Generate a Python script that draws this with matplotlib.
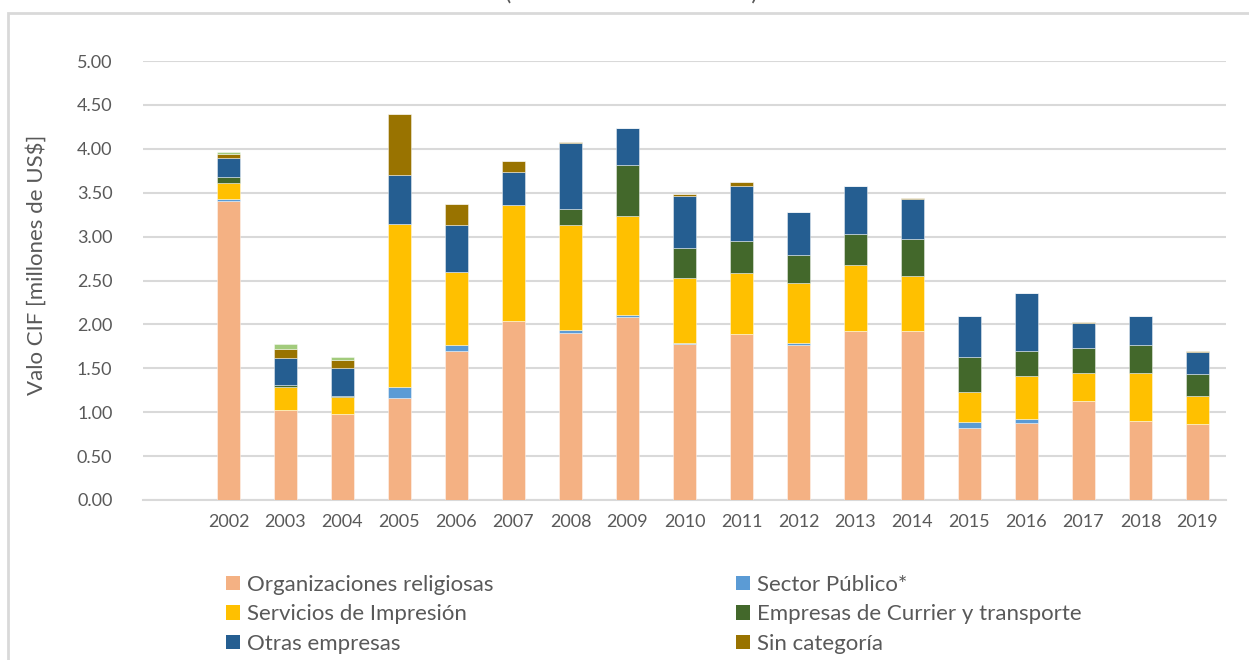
import matplotlib
matplotlib.use("Agg")
import matplotlib.pyplot as plt
import numpy as np
from matplotlib.patches import Patch, Rectangle

plt.rcParams['font.family'] = ['Lato', 'DejaVu Sans']

years = [str(y) for y in range(2002, 2020)]

org = [3.40, 1.02, 0.98, 1.165, 1.70, 2.04, 1.90, 2.08, 1.78, 1.885, 1.77, 1.92, 1.92, 0.82, 0.88, 1.13, 0.90, 0.87]
sector = [0.03, 0.01, 0.0, 0.125, 0.06, 0.0, 0.04, 0.03, 0.005, 0.005, 0.02, 0.0, 0.0, 0.07, 0.045, 0.0, 0.0, 0.0]
impresion = [0.18, 0.255, 0.19, 1.85, 0.84, 1.32, 1.19, 1.13, 0.74, 0.70, 0.68, 0.755, 0.63, 0.34, 0.485, 0.32, 0.55, 0.32]
courier = [0.065, 0.03, 0.012, 0.0, 0.0, 0.0, 0.19, 0.58, 0.35, 0.355, 0.32, 0.355, 0.42, 0.395, 0.29, 0.28, 0.31, 0.25]
otras = [0.215, 0.30, 0.32, 0.56, 0.53, 0.38, 0.745, 0.42, 0.59, 0.63, 0.49, 0.55, 0.46, 0.475, 0.655, 0.29, 0.34, 0.25]
sincat = [0.05, 0.10, 0.095, 0.70, 0.24, 0.12, 0.012, 0.0, 0.02, 0.045, 0.0, 0.0, 0.01, 0.0, 0.0, 0.01, 0.0, 0.005]
otro7 = [0.02, 0.06, 0.03, 0, 0, 0, 0, 0, 0, 0, 0, 0, 0, 0, 0, 0, 0, 0]

labels = ["Organizaciones religiosas", "Sector Público*", "Servicios de Impresión",
          "Empresas de Currier y transporte", "Otras empresas", "Sin categoría", ""]
colors = ["#F4B183", "#5B9BD5", "#FFC000", "#43682B", "#255E91", "#997300", "#A2CB7C"]
series = [org, sector, impresion, courier, otras, sincat, otro7]

W, H = 1249, 660
fig = plt.figure(figsize=(W / 100, H / 100), dpi=100)
ax = fig.add_axes([143 / W, 1 - 500 / H, (1226 - 143) / W, (500 - 61) / H])

x = np.arange(1, len(years) + 1)
bottom = np.zeros(len(years))
handles = []
for vals, lab, col in zip(series, labels, colors):
    v = np.array(vals, dtype=float)
    ax.bar(x, v, 0.4, bottom=bottom, color=col, edgecolor=(1, 1, 1, 0.5),
           linewidth=0.6, zorder=3)
    bottom += v
    handles.append(Patch(facecolor=col))

ax.set_xlim(-0.5, len(years) + 0.5)
ax.set_ylim(0, 5)
ax.set_yticks(np.arange(0, 5.01, 0.5))
ax.set_yticklabels([f"{t:.2f}" for t in np.arange(0, 5.01, 0.5)])
ax.set_xticks(x)
ax.set_xticklabels(years)
ax.yaxis.grid(True, color="#D9D9D9", linewidth=1.5, zorder=0)
ax.set_axisbelow(True)
for s in ["top", "right", "left"]:
    ax.spines[s].set_visible(False)
ax.spines["bottom"].set_color("#D9D9D9")
ax.spines["bottom"].set_linewidth(1.5)
ax.tick_params(axis="both", length=0, labelsize=13, colors="#595959")
ax.tick_params(axis="y", pad=22)
ax.tick_params(axis="x", pad=10)
ax.set_ylabel("Valo CIF [millones de US$]", fontsize=16, color="#595959")
ax.yaxis.set_label_coords(47 / W, 1 - 265 / H, transform=fig.transFigure)

# outer chart border
fig.add_artist(Rectangle((8 / W, -0.05), 1.1, 1 - 13 / H + 0.05, transform=fig.transFigure,
                         fill=False, edgecolor="#D9D9D9", linewidth=2))

# title (cut off at the top edge in the original)
fig.text(631 / W, 1.0, "(millones de dólares CIF)", ha="center", va="baseline",
         fontsize=17, color="#595959")

order1 = [0, 2, 4]
order2 = [1, 3, 5]
leg_kw = dict(frameon=False, fontsize=16, handlelength=0.63, handleheight=0.63,
              handletextpad=0.32, labelspacing=0.42, labelcolor="#595959",
              loc="upper left", borderaxespad=0, borderpad=0)
fig.legend([handles[i] for i in order1], [labels[i] for i in order1],
           bbox_to_anchor=(226 / W, 1 - 575 / H), **leg_kw)
fig.legend([handles[i] for i in order2], [labels[i] for i in order2],
           bbox_to_anchor=(736 / W, 1 - 575 / H), **leg_kw)

fig.savefig("out.png", dpi=100)
